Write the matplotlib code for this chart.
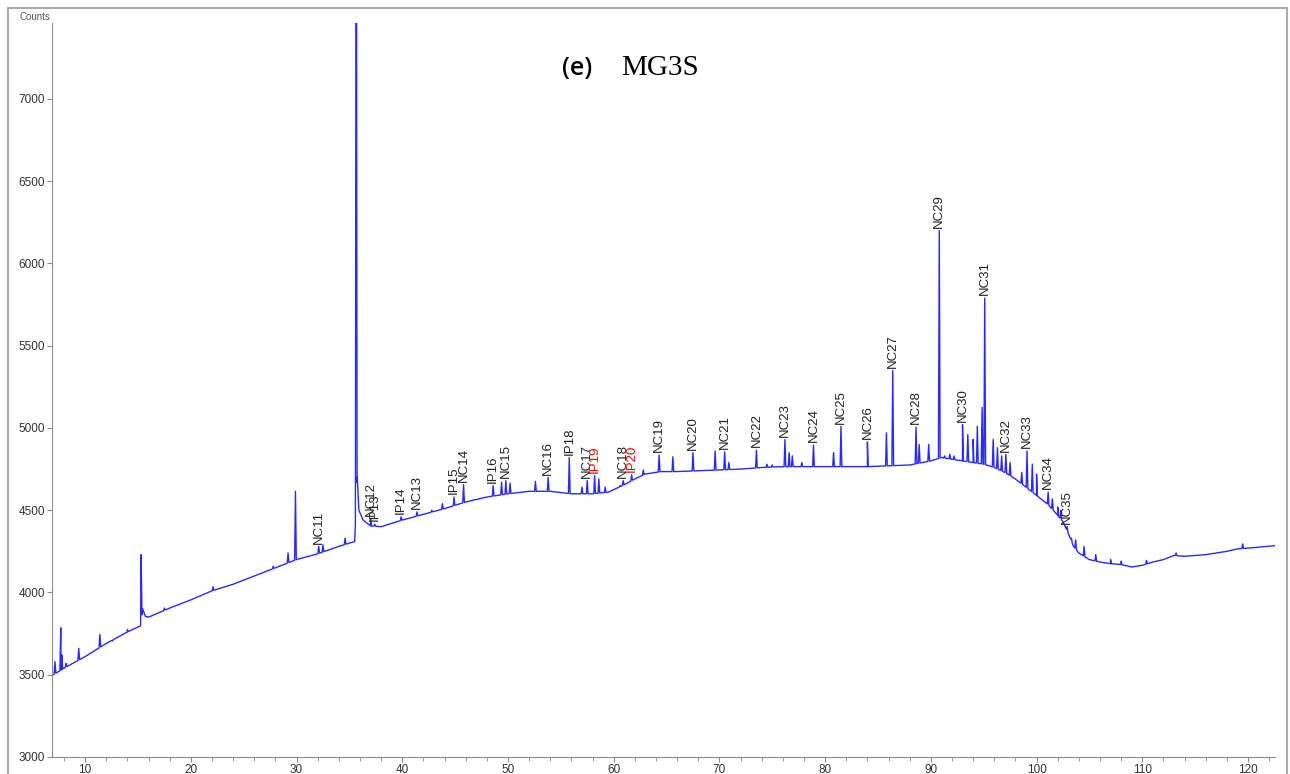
import matplotlib.pyplot as plt
import numpy as np
from matplotlib.patches import Rectangle
from matplotlib.ticker import MultipleLocator

# baseline of the trace (retention time, counts)
base_x = [7.0, 8.0, 9.0, 10.0, 11.0, 12.0, 13.0, 14.0, 15.25, 15.45, 15.7, 16.0,
          18.0, 20.0, 22.0, 24.0, 26.0, 28.0, 30.0, 32.0, 34.0, 35.5,
          35.75, 35.9, 36.3, 37.0, 38.0, 40.0, 42.0, 44.0, 46.0, 48.0, 50.0,
          52.0, 54.0, 56.0, 58.0, 59.5, 61.0, 62.0, 63.0, 64.5, 66.0, 68.0,
          70.0, 72.0, 74.0, 76.0, 78.0, 80.0, 82.0, 84.0, 86.0, 88.0, 90.0,
          91.0, 92.0, 93.0, 94.0, 95.0, 96.0, 97.0, 98.0, 99.0, 100.0, 101.0,
          102.0, 102.5, 103.0, 103.5, 104.0, 105.0, 106.0, 107.0, 108.0, 109.0,
          110.0, 111.0, 112.0, 113.0, 114.0, 115.0, 116.0, 117.0, 118.0, 119.0,
          120.0, 121.0, 122.6]
base_y = [3500, 3540, 3575, 3610, 3650, 3690, 3725, 3760, 3797, 3900, 3855, 3850,
          3905, 3955, 4010, 4050, 4100, 4150, 4200, 4235, 4280, 4310,
          4700, 4500, 4440, 4405, 4400, 4440, 4475, 4510, 4550, 4580, 4600,
          4615, 4615, 4600, 4600, 4610, 4655, 4690, 4720, 4735, 4735, 4740,
          4745, 4750, 4760, 4765, 4765, 4765, 4765, 4765, 4770, 4775, 4800,
          4820, 4810, 4800, 4790, 4780, 4760, 4730, 4690, 4640, 4590, 4540,
          4470, 4430, 4360, 4280, 4240, 4200, 4185, 4175, 4170, 4155,
          4165, 4185, 4200, 4225, 4220, 4225, 4230, 4240, 4250, 4265,
          4270, 4275, 4285]

# labelled peaks
peak_names = ['NC11', 'NC12', 'IP13', 'IP14', 'NC13', 'IP15', 'NC14', 'IP16', 'NC15',
              'NC16', 'IP18', 'NC17', 'IP19', 'NC18', 'IP20', 'NC19', 'NC20', 'NC21',
              'NC22', 'NC23', 'NC24', 'NC25', 'NC26', 'NC27', 'NC28', 'NC29', 'NC30',
              'NC31', 'NC32', 'NC33', 'NC34', 'NC35']
peak_x = [32.1, 37.0, 37.4, 39.9, 41.4, 44.9, 45.8, 48.6, 49.8,
          53.8, 55.8, 57.5, 58.2, 60.9, 61.7, 64.3, 67.5, 70.5,
          73.5, 76.2, 78.9, 81.5, 84.0, 86.4, 88.6, 90.8, 93.0,
          95.1, 97.1, 99.1, 101.1, 102.9]
peak_y = [4280, 4450, 4415, 4460, 4490, 4580, 4655, 4650, 4680,
          4700, 4820, 4680, 4710, 4680, 4715, 4835, 4850, 4855,
          4865, 4930, 4895, 5010, 4915, 5350, 5005, 6200, 5020,
          5790, 4840, 4860, 4610, 4400]
red_names = ['IP19', 'IP20']

# unlabelled peaks
other_x = [7.15, 7.7, 7.8, 8.2, 9.4, 11.4, 12.6, 14.0, 15.3, 17.5, 22.1, 27.8,
           29.2, 29.9, 32.5, 33.5, 34.6, 35.65, 42.8, 43.8, 46.8, 49.4, 50.2,
           52.6, 57.0, 58.6, 59.2, 60.6, 62.8, 65.6, 69.6, 70.9, 74.5, 75.0,
           76.6, 76.9, 77.8, 80.8, 85.8, 88.9, 89.8, 91.3, 91.8, 92.2, 93.5,
           94.0, 94.4, 94.85, 95.9, 96.3, 96.7, 97.5, 98.6, 99.6, 100.0, 101.5,
           102.0, 102.3, 103.3, 103.7, 104.5, 105.6, 107.0, 108.0, 110.4,
           113.2, 119.5]
other_y = [3580, 3785, 3620, 3570, 3660, 3745, 3705, 3775, 4230, 3905, 4035, 4160,
           4240, 4615, 4290, 4270, 4330, 9500, 4500, 4540, 4565, 4670, 4665,
           4675, 4640, 4690, 4640, 4650, 4745, 4825, 4860, 4790, 4780, 4775,
           4850, 4830, 4790, 4850, 4970, 4900, 4900, 4830, 4840, 4830, 4960,
           4930, 5010, 5125, 4930, 4880, 4830, 4790, 4730, 4780, 4720, 4570,
           4520, 4500, 4330, 4320, 4280, 4230, 4200, 4190, 4195,
           4240, 4295]

# build the trace: baseline knots plus a narrow spike for each peak
w = 0.08
pts = list(zip(base_x, base_y))
for px, py in zip(peak_x + other_x, peak_y + other_y):
    pts.append((px - w, np.interp(px - w, base_x, base_y)))
    pts.append((px, py))
    pts.append((px + w, np.interp(px + w, base_x, base_y)))
pts.sort(key=lambda p: p[0])
tx = [p[0] for p in pts]
ty = [p[1] for p in pts]

fig = plt.figure(figsize=(12.9, 7.74), dpi=100)
ax = fig.add_axes([0.0403, 0.0220, 0.9481, 0.9483])
ax.plot(tx, ty, color='#2a2aff', lw=1.0)

for name, px, py in zip(peak_names, peak_x, peak_y):
    ax.annotate(name, (px, py), xytext=(0, 2), textcoords='offset points',
                rotation=90, ha='center', va='bottom', fontsize=9.5,
                family='Liberation Sans',
                color='red' if name in red_names else '#222222')

ax.set_xlim(6.87, 122.56)
ax.set_ylim(3000, 7462)
ax.set_yticks(np.arange(3000, 7001, 500))
ax.xaxis.set_major_locator(MultipleLocator(10))
ax.xaxis.set_minor_locator(MultipleLocator(2))
ax.set_xticks([10, 20, 30, 40, 50, 60, 70, 80, 90, 100, 110, 120])
for s in ['top', 'right']:
    ax.spines[s].set_visible(False)
for s in ['left', 'bottom']:
    ax.spines[s].set_color('#8c8c8c')
ax.tick_params(which='both', color='#8c8c8c', labelsize=8.5, labelcolor='#333333', pad=1.5)
ax.tick_params(which='major', length=3.5)
ax.tick_params(which='minor', length=3)
for lab in ax.get_xticklabels() + ax.get_yticklabels():
    lab.set_family('Liberation Sans')

fig.text(0.027, 0.978, 'Counts', fontsize=7, color='#555555', ha='center', va='center',
         family='Liberation Sans')
fig.text(0.447, 0.912, '(e)', fontsize=18, fontweight='semibold', family='Open Sans',
         ha='center', va='center')
fig.text(0.5116, 0.912, 'MG3S', fontsize=21, family='Liberation Serif',
         ha='center', va='center')

fig.patches.append(Rectangle((8 / 1290, -0.05), 1279 / 1290, 0.9897 + 0.05,
                             transform=fig.transFigure, fill=False,
                             edgecolor='#aaaaaa', lw=1.5))

fig.savefig('out.png', dpi=100)
